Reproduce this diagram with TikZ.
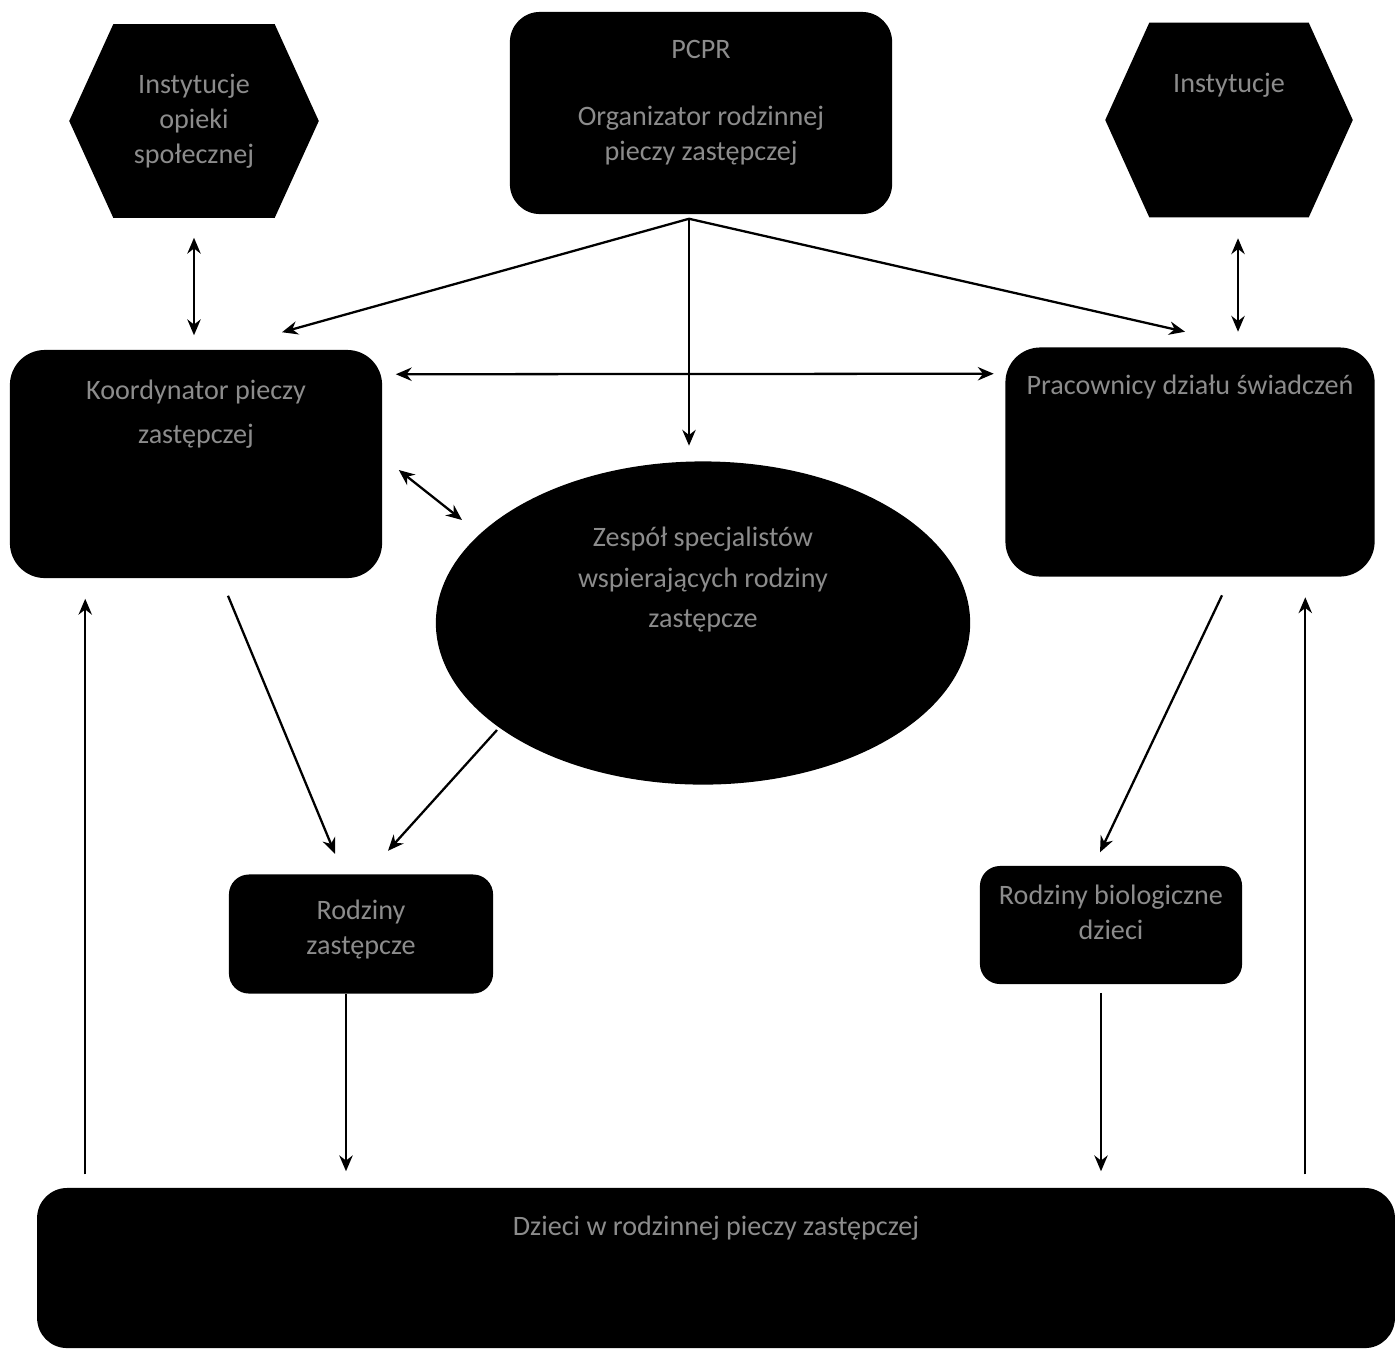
\documentclass[tikz,border=0pt]{standalone}
\usepackage{fontspec}
\setmainfont{Carlito}
\usetikzlibrary{arrows.meta, positioning, calc, shapes.geometric, backgrounds}

\tikzset{
  blackbox/.style={fill=black, rounded corners=0.3cm, inner sep=0pt},
  hexarea/.style={inner sep=0pt},
  txt/.style={text=black!45, align=center, inner sep=0pt,
    font=\fontsize{8}{10}\selectfont},
  link/.style={line width=0.65pt, -{Stealth[length=4.5pt,width=3.8pt]}},
  both/.style={line width=0.65pt,
    {Stealth[length=4.5pt,width=3.8pt]}-{Stealth[length=4.5pt,width=3.8pt]}},
}

\begin{document}
\begin{tikzpicture}[x=0.01cm, y=-0.01cm]
  \useasboundingbox (0,0) rectangle (1395,1348);

  % Top row
  \node[blackbox, minimum width=3.82cm, minimum height=2.02cm] (pcpr) at (701,113) {};
  \node[txt, below=0.28cm of pcpr.north] (pcprt)
    {PCPR\\[9pt]Organizator rodzinnej\\pieczy zastępczej};
  \node[hexarea, txt, minimum width=2.48cm, minimum height=1.92cm] (inst1) at (194,121)
    {Instytucje\\opieki\\społecznej};
  \node[hexarea, minimum width=2.46cm, minimum height=1.93cm] (inst2) at (1229,120) {};
  \node[txt, below=0.5cm of inst2.north] (inst2t) {Instytucje};

  % Middle row
  \node[blackbox, rounded corners=0.35cm, minimum width=3.72cm, minimum height=2.28cm]
    (koord) at (196,464) {};
  \node[txt, below=0.3cm of koord.north] (koordt) {Koordynator pieczy\\[2.5pt]zastępczej};
  \node[blackbox, rounded corners=0.35cm, minimum width=3.69cm, minimum height=2.29cm]
    (prac) at (1190,462) {};
  \node[txt, below=0.28cm of prac.north] (pract) {Pracownicy działu świadczeń};
  \node[ellipse, fill=black, inner sep=0pt, minimum width=5.34cm, minimum height=3.23cm]
    (zesp) at (703,623) {};
  \node[txt, below=0.66cm of zesp.north] (zespt)
    {Zespół specjalistów\\[1.4pt]wspierających rodziny\\[1.4pt]zastępcze};

  % Lower row
  \node[blackbox, rounded corners=0.2cm, minimum width=2.64cm, minimum height=1.19cm]
    (rodz1) at (361,934) {};
  \node[txt, below=0.25cm of rodz1.north] (rodz1t) {Rodziny\\zastępcze};
  \node[blackbox, rounded corners=0.2cm, minimum width=2.62cm, minimum height=1.18cm]
    (rodz2) at (1111,925) {};
  \node[txt, below=0.19cm of rodz2.north] (rodz2t) {Rodziny biologiczne\\dzieci};
  \node[blackbox, minimum width=13.57cm, minimum height=1.6cm] (dziec) at (716,1268) {};
  \node[txt, below=0.28cm of dziec.north] (dziect) {Dzieci w rodzinnej pieczy zastępczej};

  % Hexagons
  \begin{scope}[on background layer]
    \foreach \h in {inst1, inst2}
      \fill (\h.west) -- ([xshift=0.44cm]\h.north west) -- ([xshift=-0.44cm]\h.north east)
        -- (\h.east) -- ([xshift=-0.44cm]\h.south east) -- ([xshift=0.44cm]\h.south west) -- cycle;
  \end{scope}

  % Arrows
  \coordinate (fork) at ($(pcpr.south)+(-12,4)$);
  \draw[link] (fork) -- ($(koord.north)+(86,-17)$);
  \draw[link, shorten >=0.15cm] (fork) -- (fork |- zesp.north);
  \draw[link] (fork) -- ($(prac.north)+(-5,-15)$);

  \draw[both, shorten <=0.2cm, shorten >=0.14cm] (inst1.south) -- (inst1.south |- koord.north);
  \draw[both, shorten <=0.21cm, shorten >=0.15cm]
    ([xshift=0.09cm]inst2.south) -- ([xshift=0.09cm]inst2.south |- prac.north);
  \draw[both] ($(koord.north east)+(13,25)$) -- ($(prac.north west)+(-11,27)$);
  \draw[both] ($(koord.east)+(16,6)$) -- ($(zesp.center)+(-241,-103)$);

  \draw[link] ($(koord.south)+(32,17)$) -- ($(rodz1.north)+(-26,-20)$);
  \draw[link] ($(zesp.center)+(-206,107)$) -- ($(rodz1.north)+(27,-23)$);
  \draw[link] ($(prac.south)+(32,18)$) -- ($(rodz2.north)+(-11,-13)$);

  \draw[link, shorten >=0.16cm] ([xshift=-0.15cm]rodz1.south) -- ([xshift=-0.15cm]rodz1.south |- dziec.north);
  \draw[link, shorten <=0.08cm, shorten >=0.16cm] ([xshift=-0.1cm]rodz2.south) -- ([xshift=-0.1cm]rodz2.south |- dziec.north);
  \draw[link, shorten <=0.13cm, shorten >=0.2cm]
    ([xshift=0.76cm]koord.south west |- dziec.north) -- ([xshift=0.76cm]koord.south west);
  \draw[link, shorten <=0.13cm, shorten >=0.2cm]
    ([xshift=-0.7cm]prac.south east |- dziec.north) -- ([xshift=-0.7cm]prac.south east);
\end{tikzpicture}
\end{document}
